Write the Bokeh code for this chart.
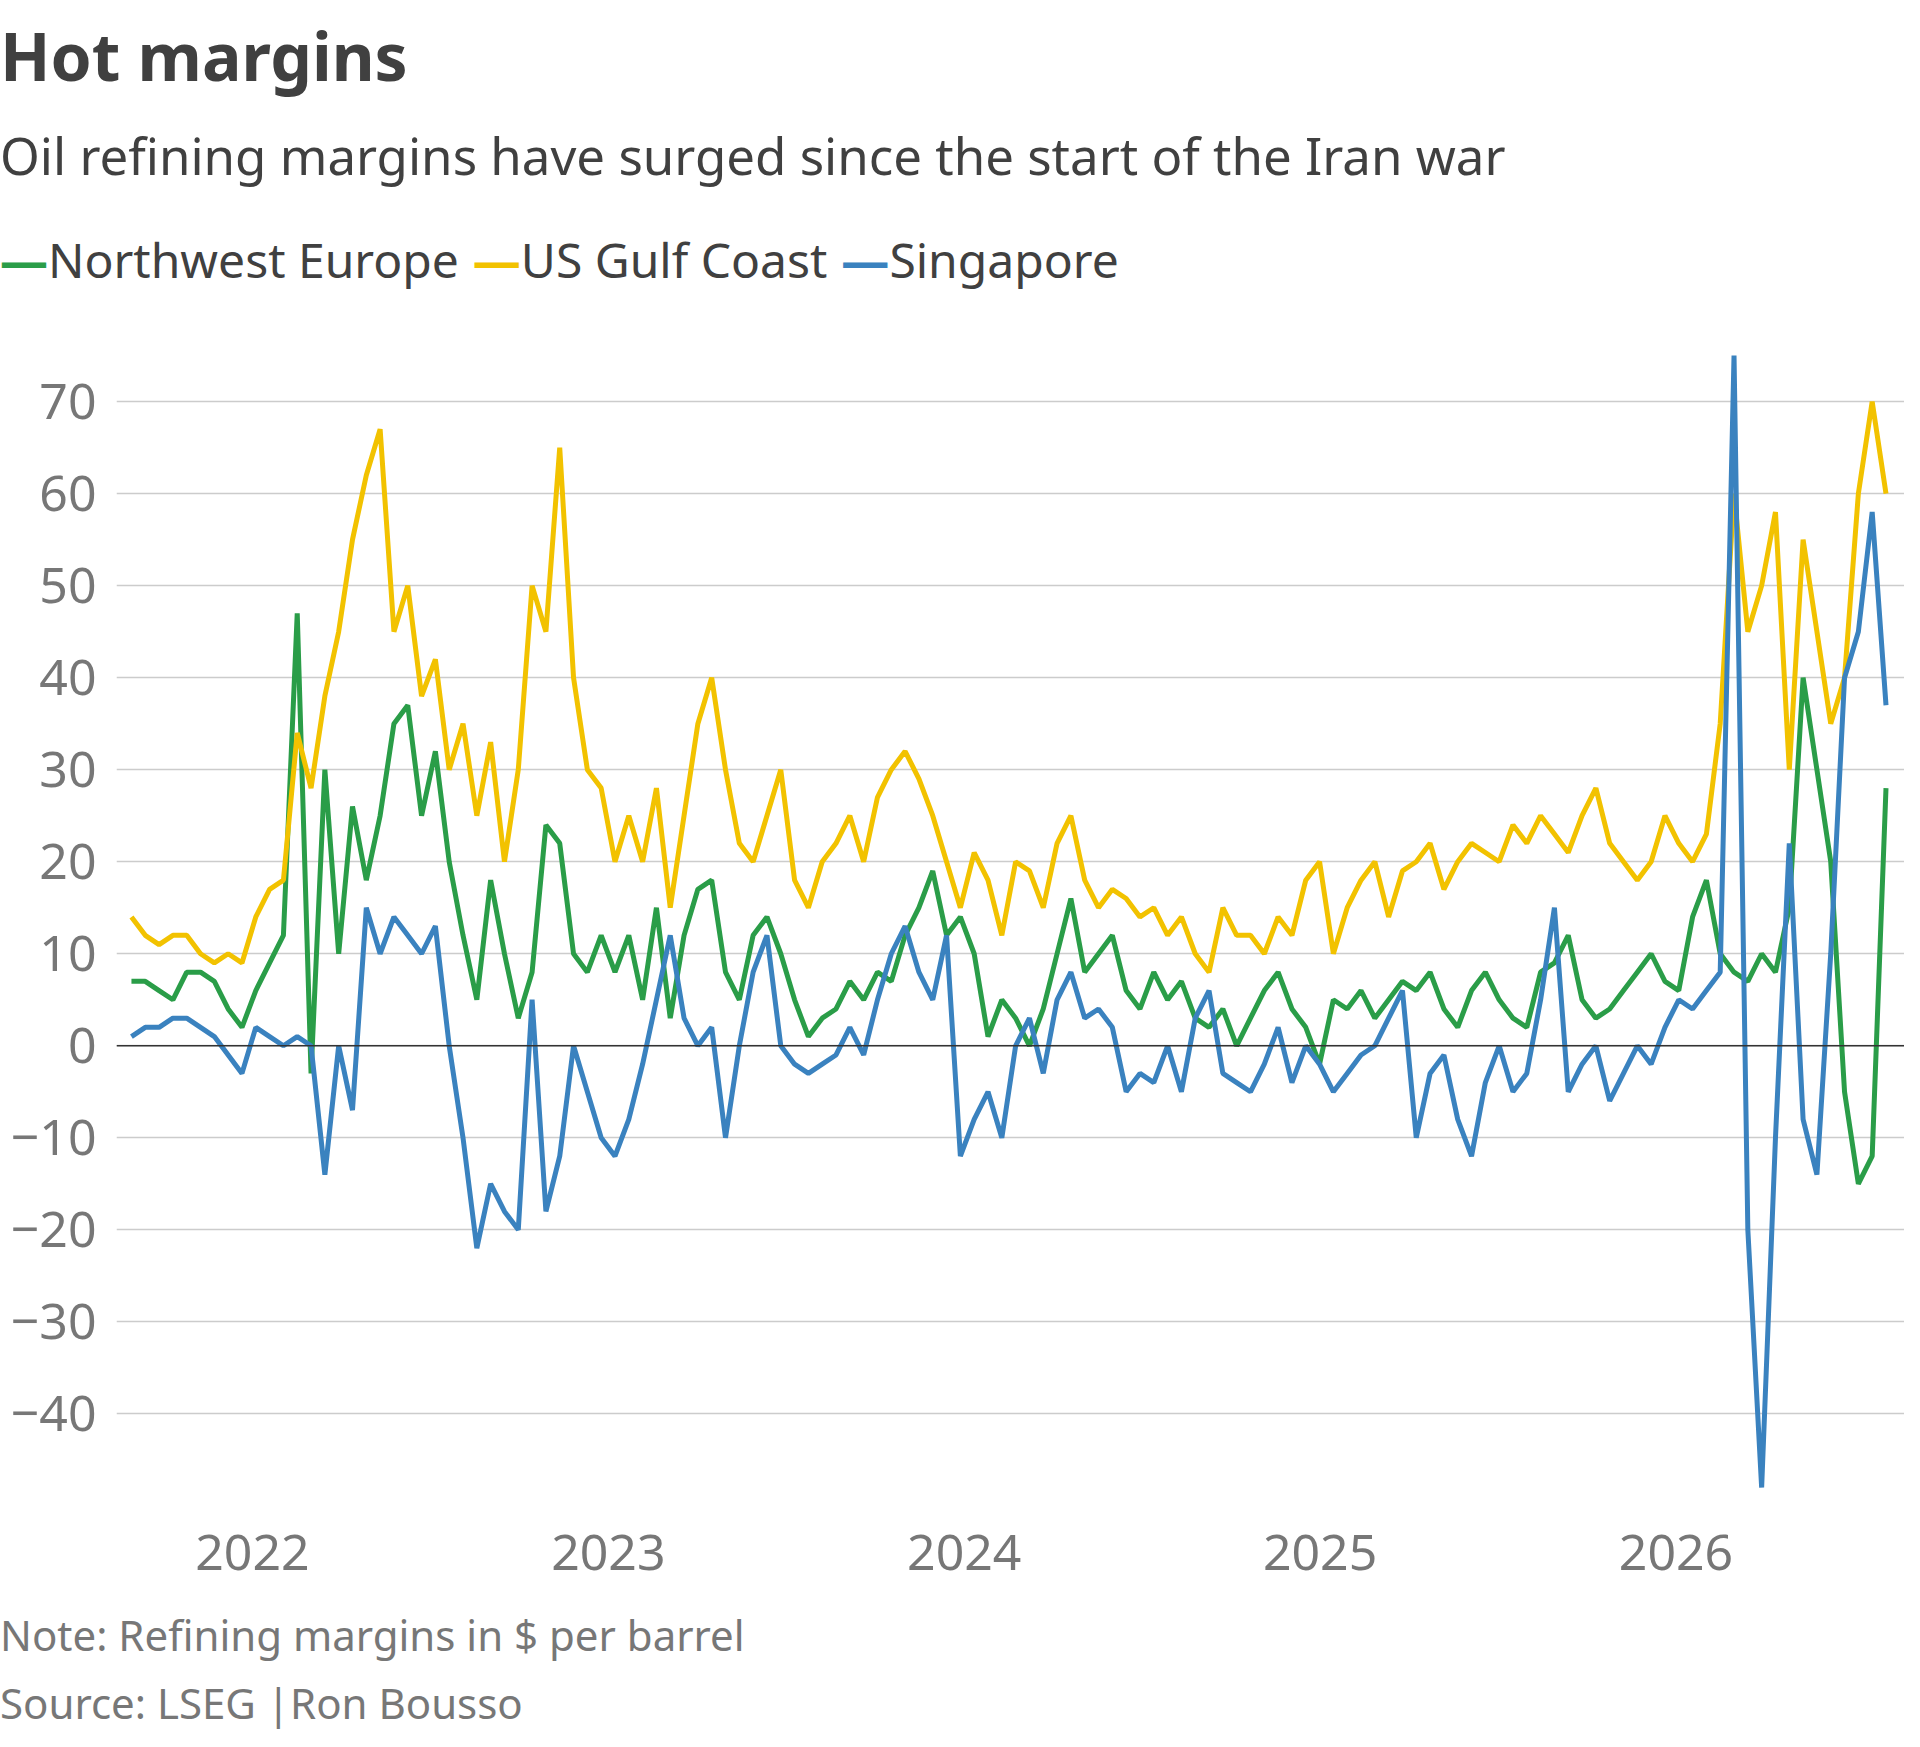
import numpy as np
from bokeh.plotting import figure
from bokeh.models import Div, FixedTicker, Span
from bokeh.layouts import column
from bokeh.embed import file_html
from bokeh.resources import INLINE

start_year = 2021.66
end_year = 2026.59

nwe = [7,7,6,5,8,8,7,4,2,
       6,9,12,47,-3,30,10,26,18,25,35,37,25,32,20,12,5,18,10,3,8,24,22,10,8,12,
       8,12,5,15,3,12,17,18,8,5,12,14,10,5,1,3,4,7,5,8,7,12,15,19,12,14,
       10,1,5,3,0,4,10,16,8,10,12,6,4,8,5,7,3,2,4,0,3,6,8,4,2,-2,
       5,4,6,3,5,7,6,8,4,2,6,8,5,3,2,8,9,12,5,3,4,6,8,10,7,6,
       14,18,10,8,7,10,8,15,40,30,20,-5,-15,-12,28]
usgc = [14,12,11,12,12,10,9,10,9,
        14,17,18,34,28,38,45,55,62,67,45,50,38,42,30,35,25,33,20,30,50,45,65,40,30,28,
        20,25,20,28,15,25,35,40,30,22,20,25,30,18,15,20,22,25,20,27,30,32,29,25,20,15,
        21,18,12,20,19,15,22,25,18,15,17,16,14,15,12,14,10,8,15,12,12,10,14,12,18,20,
        10,15,18,20,14,19,20,22,17,20,22,21,20,24,22,25,23,21,25,28,22,20,18,20,25,22,
        20,23,35,60,45,50,58,30,55,45,35,40,60,70,60]
sing = [1,2,2,3,3,2,1,-1,-3,
        2,1,0,1,0,-14,0,-7,15,10,14,12,10,13,0,-10,-22,-15,-18,-20,5,-18,-12,0,-5,-10,
        -12,-8,-2,5,12,3,0,2,-10,0,8,12,0,-2,-3,-2,-1,2,-1,5,10,13,8,5,12,-12,
        -8,-5,-10,0,3,-3,5,8,3,4,2,-5,-3,-4,0,-5,3,6,-3,-4,-5,-2,2,-4,0,-2,
        -5,-3,-1,0,3,6,-10,-3,-1,-8,-12,-4,0,-5,-3,5,15,-5,-2,0,-6,-3,0,-2,2,5,
        4,6,8,75,-20,-48,-10,22,-8,-14,10,40,45,58,37]

series = [("Northwest Europe", nwe, "#2a9d48"),
          ("US Gulf Coast", usgc, "#f2c200"),
          ("Singapore", sing, "#3a82bf")]
year_ticks = [2022, 2023, 2024, 2025, 2026]
y_ticks = [-40, -30, -20, -10, 0, 10, 20, 30, 40, 50, 60, 70]

FONT = "Noto Sans"
W = 1904

title = Div(text="Hot margins", width=W, height=100, margin=(0, 0, 0, 0),
            styles={"font-family": FONT, "font-size": "66px", "font-weight": "bold",
                    "color": "#404040", "line-height": "110px"})
subtitle = Div(text="Oil refining margins have surged since the start of the Iran war",
               width=W, height=110, margin=(0, 0, 0, 0),
               styles={"font-family": FONT, "font-size": "51px", "color": "#404040",
                       "line-height": "110px"})
leg_html = "".join(
    f'<span style="color:{c};font-weight:bold">&#8212;</span>'
    f'<span style="color:#404040;margin-right:14px">{n}</span>' for n, _, c in series)
legend = Div(text=leg_html, width=W, height=100, margin=(0, 0, 0, 0),
             styles={"font-family": FONT, "font-size": "48px", "line-height": "100px"})

p = figure(width=W, height=1290, output_backend="svg", toolbar_location=None,
           x_range=(2021.618, 2026.642), y_range=(-50.5, 79.9),
           min_border_left=116, min_border_right=0, min_border_top=0, min_border_bottom=90)
p.outline_line_color = None
for name, vals, col in series:
    xs = np.linspace(start_year, end_year, len(vals))
    p.line(xs, vals, line_color=col, line_width=5)
p.add_layout(Span(location=0, dimension="width", line_color="#333333", line_width=1.5))

p.xgrid.grid_line_color = None
p.ygrid.grid_line_color = "#cccccc"
p.ygrid.grid_line_width = 1.5
p.yaxis.ticker = FixedTicker(ticks=y_ticks)
p.yaxis.major_label_overrides = {t: (str(t).replace("-", "\u2212")) for t in y_ticks}
p.xaxis.ticker = FixedTicker(ticks=year_ticks)
p.xaxis.major_label_overrides = {t: str(t) for t in year_ticks}
for ax in (p.xaxis[0], p.yaxis[0]):
    ax.axis_line_color = None
    ax.major_tick_line_color = None
    ax.minor_tick_line_color = None
    ax.major_label_text_font = FONT
    ax.major_label_text_font_size = "50px"
    ax.major_label_text_color = "#777777"
p.yaxis.major_label_standoff = 14
p.xaxis.major_label_standoff = 18

note = Div(text="Note: Refining margins in $ per barrel", width=W, height=70, margin=(0, 0, 0, 0),
           styles={"font-family": FONT, "font-size": "42px", "color": "#777777", "line-height": "70px"})
source = Div(text="Source: LSEG |Ron Bousso", width=W, height=60, margin=(0, 0, 0, 0),
             styles={"font-family": FONT, "font-size": "42px", "color": "#777777", "line-height": "66px"})

layout = column(title, subtitle, legend, p, note, source, spacing=0)
open("out.html", "w").write(file_html(layout, INLINE))
